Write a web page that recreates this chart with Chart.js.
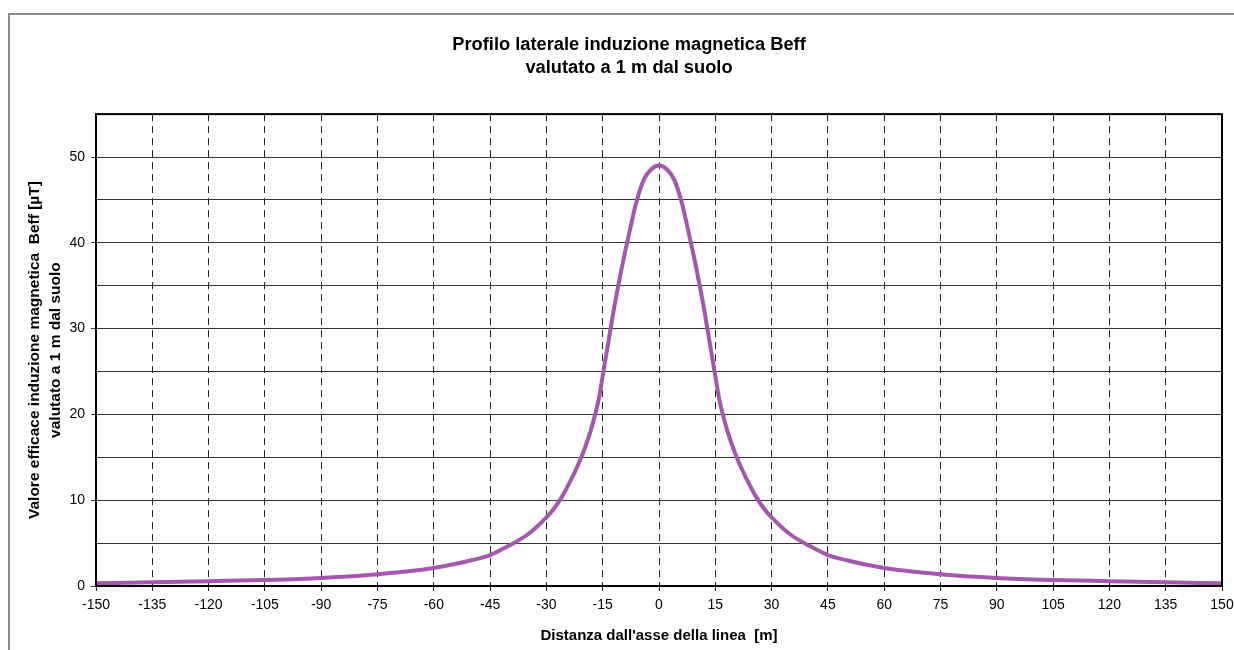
<!DOCTYPE html>
<html>
<head>
<meta charset="utf-8">
<script src="https://cdn.jsdelivr.net/npm/chart.js@4"></script>
<style>
  body { margin: 0; background: #fff; }
  #wrap { position: relative; width: 1234px; height: 650px; }
</style>
</head>
<body>
<div id="wrap"><canvas id="profileChart"></canvas></div>
<script>
// distanza dall'asse della linea [m]
const distances = [-150, -135, -120, -105, -90, -75, -60, -55, -50, -45, -40, -35, -30, -28, -26, -24, -22, -20, -18, -16, -15, -14, -13, -12, -10, -8, -6, -4, -2,
    0, 2, 4, 6, 8, 10, 12, 13, 14, 15, 16, 18, 20, 22, 24, 26, 28, 30, 35, 40, 45, 50, 55, 60, 75, 90, 105, 120, 135, 150];
// Beff [uT] a 1 m dal suolo
const bValues = [0.31, 0.43, 0.56, 0.7, 0.93, 1.36, 2.1, 2.5, 3.0, 3.6, 4.7, 6.0, 8.0, 9.0, 10.3, 11.9, 13.7, 15.8, 18.4, 21.9, 24.5, 27.1, 29.7, 32.3, 36.9, 41.0, 44.8, 47.4, 48.6,
    49.0, 48.6, 47.4, 44.8, 41.0, 36.9, 32.3, 29.7, 27.1, 24.5, 21.9, 18.4, 15.8, 13.7, 11.9, 10.3, 9.0, 8.0, 6.0, 4.7, 3.6, 3.0, 2.5, 2.1, 1.36, 0.93, 0.7, 0.56, 0.43, 0.31];
const titleLines = ['Profilo laterale induzione magnetica Beff', 'valutato a 1 m dal suolo'];
const xTitle = "Distanza dall'asse della linea  [m]";
const yTitle = ['Valore efficace induzione magnetica  Beff [\u00b5T]', 'valutato a 1 m dal suolo'];

const FONT = "'Liberation Sans', Arial, sans-serif";

// cornice grigia esterna + bordo nero dell'area del grafico
const framePlugin = {
    id: 'frame',
    beforeDraw(chart) {
        const ctx = chart.ctx;
        ctx.save();
        ctx.strokeStyle = '#8a8a8a';
        ctx.lineWidth = 2;
        ctx.beginPath();
        ctx.moveTo(9, 650);
        ctx.lineTo(9, 14);
        ctx.lineTo(1234, 14);
        ctx.stroke();
        ctx.restore();
    },
    afterDatasetsDraw(chart) {
        const a = chart.chartArea;
        const ctx = chart.ctx;
        ctx.save();
        ctx.strokeStyle = '#000';
        ctx.lineWidth = 2;
        ctx.strokeRect(a.left, a.top, a.right - a.left, a.bottom - a.top);
        ctx.restore();
    }
};

const points = distances.map((d, i) => ({ x: d, y: bValues[i] }));

new Chart(document.getElementById('profileChart'), {
    type: 'scatter',
    data: {
        datasets: [{
            data: points,
            showLine: true,
            borderColor: '#a557b0',
            borderWidth: 4,
            pointRadius: 0,
            cubicInterpolationMode: 'monotone',
            fill: false
        }]
    },
    options: {
        responsive: true,
        maintainAspectRatio: false,
        animation: false,
        layout: { padding: { left: 36, right: 12, top: 0, bottom: 0 } },
        plugins: {
            legend: { display: false },
            tooltip: { enabled: false },
            title: {
                display: true,
                text: titleLines,
                color: '#000',
                font: { family: FONT, size: 18.3, weight: 'bold', lineHeight: 1.26 },
                padding: { top: 33, bottom: 35 }
            }
        },
        scales: {
            x: {
                type: 'linear',
                min: -150,
                max: 150,
                afterFit: (s) => { s.height = 64; s.paddingLeft = 0; s.paddingRight = 0; },
                ticks: {
                    stepSize: 15,
                    autoSkip: false,
                    maxRotation: 0,
                    padding: 6,
                    color: '#000',
                    font: { family: FONT, size: 14 }
                },
                grid: {
                    color: '#222',
                    lineWidth: 1,
                    tickLength: 5,
                    tickColor: '#222',
                    tickBorderDash: []
                },
                border: { display: true, color: '#000', width: 2, dash: [7, 5] },
                title: {
                    display: true,
                    text: xTitle,
                    color: '#000',
                    font: { family: FONT, size: 15, weight: 'bold' },
                    padding: { top: 0, bottom: 5 }
                }
            },
            y: {
                min: 0,
                max: 55,
                afterFit: (s) => { s.width = 60; s.paddingTop = 0; s.paddingBottom = 0; },
                ticks: {
                    stepSize: 5,
                    autoSkip: false,
                    padding: 6,
                    color: '#000',
                    font: { family: FONT, size: 14 },
                    callback: (v) => (v % 10 === 0 ? v : '')
                },
                grid: {
                    color: '#333',
                    lineWidth: 1,
                    tickLength: 5,
                    tickColor: (c) => (c.tick && c.tick.value % 10 === 0 ? '#333' : 'rgba(0,0,0,0)')
                },
                border: { display: true, color: '#000', width: 2 },
                title: {
                    display: true,
                    text: yTitle,
                    color: '#000',
                    font: { family: FONT, size: 15.5, weight: 'bold', lineHeight: 1.36 },
                    padding: { top: -12, bottom: 0 }
                }
            }
        }
    },
    plugins: [framePlugin]
});
</script>
</body>
</html>
